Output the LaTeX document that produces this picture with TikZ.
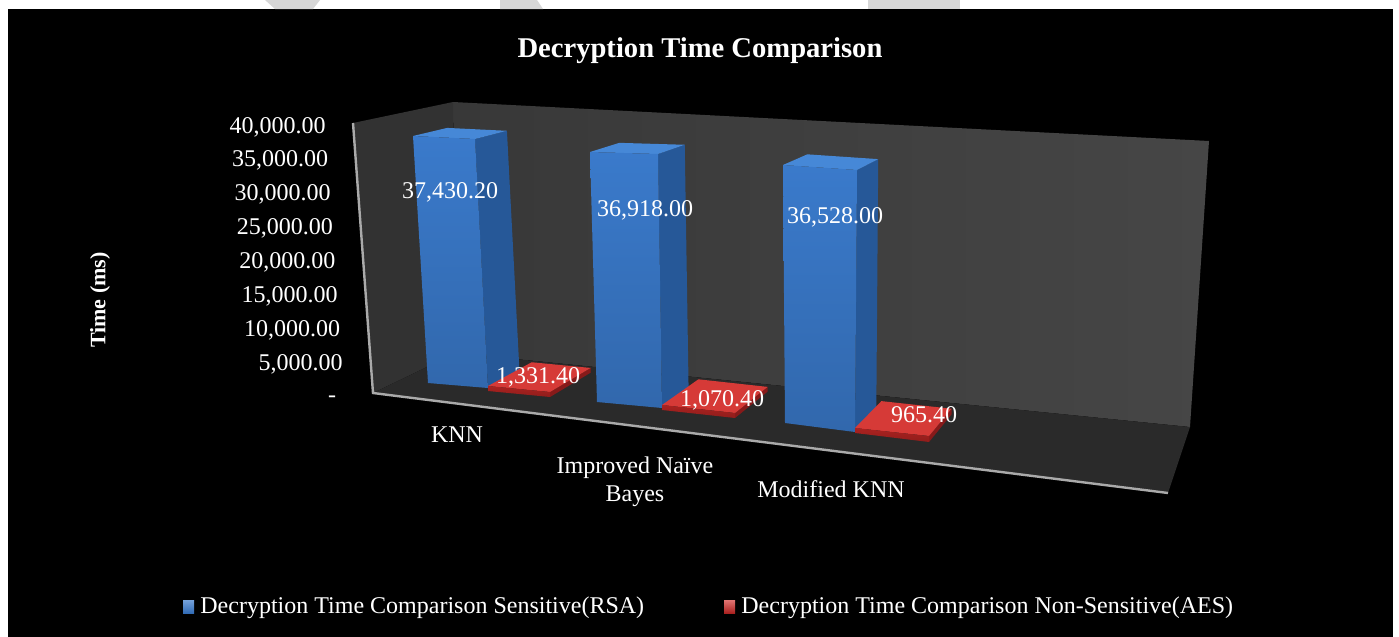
\documentclass[tikz,border=0pt]{standalone}
\usepackage{fontspec}
\setmainfont{Liberation Serif}
\usetikzlibrary{calc}
\definecolor{wallL}{RGB}{56,56,56}
\definecolor{wallR}{RGB}{70,70,70}
\definecolor{leftwall}{RGB}{50,50,50}
\definecolor{floorc}{RGB}{42,42,42}
\definecolor{axisc}{RGB}{170,170,170}
\definecolor{bfront}{RGB}{58,122,203}
\definecolor{bfrontd}{RGB}{50,108,182}
\definecolor{bside}{RGB}{38,88,152}
\definecolor{btop}{RGB}{70,136,215}
\definecolor{rtop}{RGB}{214,58,55}
\definecolor{rfront}{RGB}{170,34,32}
\definecolor{rside}{RGB}{135,26,26}
\definecolor{wmark}{RGB}{215,215,215}
\begin{document}
\begin{tikzpicture}[x=0.5pt,y=-0.5pt,
  lbl/.style={text=white,font=\fontsize{12}{14}\selectfont,inner sep=0pt},
  ticklbl/.style={lbl,anchor=base east},
  vallbl/.style={lbl,anchor=base},
  catlbl/.style={lbl,anchor=base,align=center},
  titlelbl/.style={text=white,font=\bfseries\fontsize{14.3}{17}\selectfont,inner sep=0pt,anchor=base},
  axtitle/.style={text=white,font=\bfseries\fontsize{11}{13}\selectfont,inner sep=0pt,rotate=90},
  legtext/.style={text=white,font=\fontsize{12}{14}\selectfont,inner sep=0pt,anchor=base west}]
\useasboundingbox (0,0) rectangle (1399,637);
\fill[white] (0,0) rectangle (1399,637);
\fill[black] (8,9) rectangle (1393,637);
% watermark fragments in the margin
\fill[wmark] (265,0) -- (320,0) -- (313,9) -- (275,9) -- cycle;
\fill[wmark] (500,0) -- (537,0) -- (543,9) -- (500,9) -- cycle;
\fill[wmark] (868,0) -- (960,0) -- (960,9) -- (868,9) -- cycle;
% frame coordinates
\coordinate (VP) at (1362,-89);
\coordinate (lwFT) at (353,123);
\coordinate (lwFB) at (373,393);
\coordinate (lwBT) at (453,102);
\coordinate (lwBB) at (456,353);
\coordinate (bwTR) at (1209,141);
\coordinate (bwBR) at (1190,427);
\coordinate (flFR) at (1168,493);
% walls and floor
\shade[left color=wallL,right color=wallR] (lwBT) -- (bwTR) -- (bwBR) -- (lwBB) -- cycle;
\fill[leftwall] (lwFT) -- (lwBT) -- (lwBB) -- (lwFB) -- cycle;
\fill[floorc] (lwFB) -- (lwBB) -- (bwBR) -- (flFR) -- cycle;
\draw[axisc,line width=1.2] (lwFT) -- (lwFB) -- (flFR);
% bars
\newcommand\boxbar[8]{%
  % #1 FTL #2 FTR #3 FBR #4 FBL #5 k #6 front color #7 side #8 top
  \coordinate (fTL) at #1; \coordinate (fTR) at #2;
  \coordinate (fBR) at #3; \coordinate (fBL) at #4;
  \coordinate (bTL) at ($(fTL)!#5!(VP)$);
  \coordinate (bTR) at ($(fTR)!#5!(VP)$);
  \coordinate (bBR) at ($(fBR)!#5!(VP)$);
  \fill[#7] (fTR) -- (bTR) -- (bBR) -- (fBR) -- cycle;
  \fill[#8] (fTL) -- (bTL) -- (bTR) -- (fTR) -- cycle;
  \shade[top color=#6,bottom color=#6!85!black] (fTL) -- (fTR) -- (fBR) -- (fBL) -- cycle;
}
\boxbar{(413,136)}{(475,139)}{(488,388)}{(428,383)}{0.036}{bfront}{bside}{btop}
\boxbar{(488,386)}{(550,392)}{(550,397)}{(488,391)}{0.05}{rfront}{rside}{rtop}
\boxbar{(590,152)}{(658,154)}{(662,408)}{(597,402)}{0.038}{bfront}{bside}{btop}
\boxbar{(662,405)}{(735,413)}{(735,418)}{(662,410)}{0.052}{rfront}{rside}{rtop}
\boxbar{(783,165)}{(857,170)}{(855,432)}{(785,423)}{0.042}{bfront}{bside}{btop}
\boxbar{(855,428)}{(929,436)}{(929,442)}{(855,433)}{0.052}{rfront}{rside}{rtop}
% title
\node[titlelbl] (title) at (700,57) {Decryption Time Comparison};
% axis title
\node[axtitle] (ytitle) at (100,300) {Time (ms)};
% ticks
\node[ticklbl] (t40) at (326,133) {40,000.00};
\node[ticklbl] (t35) at (328.4,166.9) {35,000.00};
\node[ticklbl] (t30) at (330.9,200.7) {30,000.00};
\node[ticklbl] (t25) at (333.3,234.6) {25,000.00};
\node[ticklbl] (t20) at (335.7,268.4) {20,000.00};
\node[ticklbl] (t15) at (338.1,302.3) {15,000.00};
\node[ticklbl] (t10) at (340.6,336.1) {10,000.00};
\node[ticklbl] (t5) at (343,370) {5,000.00};
\node[lbl,anchor=base] (t0) at (332,402) {-};
% value labels
\node[vallbl] (v1) at (450,198) {37,430.20};
\node[vallbl] (v2) at (645,216) {36,918.00};
\node[vallbl] (v3) at (835,223) {36,528.00};
\node[vallbl] (v4) at (538,383) {1,331.40};
\node[vallbl] (v5) at (722,406) {1,070.40};
\node[vallbl] (v6) at (924,422) {965.40};
% categories
\node[catlbl] (c1) at (457,442) {KNN};
\node[catlbl] (c2a) at (635,473) {Improved Naïve};
\node[catlbl] (c2b) at (635,501) {Bayes};
\node[catlbl] (c3) at (831,497) {Modified KNN};
% legend
\shade[top color=bfront!70!white,bottom color=bfrontd] (183,600) rectangle (194,613);
\node[legtext] (leg1) at (200,613) {Decryption Time Comparison Sensitive(RSA)};
\shade[top color=rtop!70!white,bottom color=rfront] (724,600) rectangle (735,613);
\node[legtext] (leg2) at (741,613) {Decryption Time Comparison Non-Sensitive(AES)};
\end{tikzpicture}
\end{document}
